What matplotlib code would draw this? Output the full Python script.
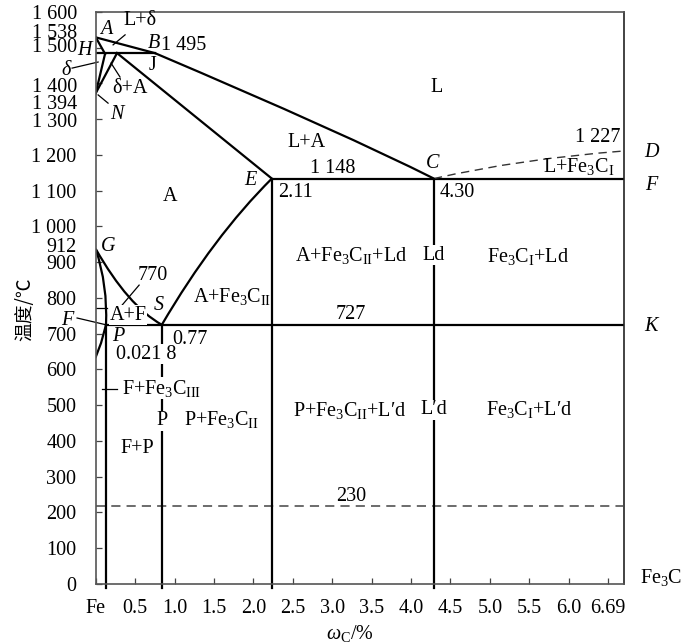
import matplotlib
matplotlib.use("Agg")
import matplotlib.pyplot as plt
from matplotlib.path import Path
from matplotlib.patches import PathPatch

# 铁碳相图 (示意图, 坐标按图读取)
plt.rcParams['font.family'] = ['Liberation Serif', 'DejaVu Sans']
plt.rcParams['mathtext.fontset'] = 'custom'
plt.rcParams['mathtext.rm'] = 'Liberation Serif'
plt.rcParams['mathtext.it'] = 'Liberation Serif:italic'
plt.rcParams['font.size'] = 14.5

# 刻度
x_ticks = [0, 0.5, 1.0, 1.5, 2.0, 2.5, 3.0, 3.5, 4.0, 4.5, 5.0, 5.5, 6.0, 6.5]
x_labels = ["Fe", "0.5", "1.0", "1.5", "2.0", "2.5", "3.0", "3.5", "4.0",
            "4.5", "5.0", "5.5", "6.0", "6.69"]
y_ticks = list(range(0, 1700, 100))
y_labels = ["0", "100", "200", "300", "400", "500", "600", "700", "800", "900",
            "1 000", "1 100", "1 200", "", "", "", ""]
# 上部纵轴标注 (位置错开)
y_extra = ["1 600", "1 538", "1 500", "1 400", "1 394", "1 300", "912"]
y_extra_pos = [1592, 1541, 1502, 1390, 1340, 1290, 940]

# 相界线 (直线)
ab_c, ab_t = [0, 0.75], [1529, 1485]                # AB
ah_c, ah_t = [0, 0.118], [1529, 1483]               # AH
hn_c, hn_t = [0.118, 0], [1483, 1373]               # HN
jn_c, jn_t = [0.27, 0], [1485, 1373]                # JN
hjb_c, hjb_t = [0, 0.75], [1485, 1485]              # HJB
je_c, je_t = [0.27, 2.234], [1485, 1134]            # JE
ecf_c, ecf_t = [2.234, 6.69], [1134, 1134]          # ECF
pq_c, pq_t = [0.13, 0.067, 0], [725, 674, 635]      # PQ
psk_c, psk_t = [0.13, 6.69], [725, 725]             # PSK
mag_c, mag_t = [0, 0.14], [772, 772]                # 770
line230_c, line230_t = [0, 6.69], [218, 218]
vert_c = [0.13, 0.838, 2.234, 4.29]
vert_top = [725, 725, 1134, 1134]

# 相界线 (曲线: 起点, 控制点, 终点)
bc_c, bc_t = [0.75, 3.176, 4.29], [1485, 1258, 1134]     # BC 液相线
es_c, es_t = [0.838, 1.494, 2.234], [725, 972, 1134]     # ES
gs_c, gs_t = [0, 0.41, 0.838], [937, 778, 725]           # GS
gp_c, gp_t = [0, 0.153, 0.13], [937, 834, 725]           # GP
cd_c, cd_t = [4.29, 5.385, 6.69], [1134, 1189, 1211]     # CD (虚线)

fig = plt.figure(figsize=(6.84, 6.44), dpi=100)
ax = fig.add_axes([0.14, 0.0932, 0.772, 0.8882])
ax.set_xlim(0, 6.70)
ax.set_ylim(0, 1600)

lw = 1.6
k = 'black'
for c, t in [(ab_c, ab_t), (ah_c, ah_t), (hn_c, hn_t), (jn_c, jn_t),
             (hjb_c, hjb_t), (je_c, je_t), (ecf_c, ecf_t), (pq_c, pq_t),
             (psk_c, psk_t)]:
    ax.plot(c, t, color=k, lw=lw, solid_joinstyle='round', zorder=2)


def curve(c, t, **kw):
    path = Path(list(zip(c, t)), [Path.MOVETO, Path.CURVE3, Path.CURVE3])
    ax.add_patch(PathPatch(path, facecolor='none', zorder=2, **kw))


for c, t in [(bc_c, bc_t), (es_c, es_t), (gs_c, gs_t), (gp_c, gp_t)]:
    curve(c, t, edgecolor=k, lw=lw)
curve(cd_c, cd_t, edgecolor='#333333', lw=1.0, ls=(0, (6, 4)))

ax.plot(mag_c, mag_t, color=k, lw=0.9, zorder=2)
ax.plot(line230_c, line230_t, color='#444444', lw=1.1, ls=(0, (6, 4)), zorder=2)
for c, t in zip(vert_c, vert_top):
    ax.plot([c, c], [t, -10], color=k, lw=lw, clip_on=False, zorder=2)

# 引线
leaders = [([0.22, 0.372], [1508, 1536]),
           ([-0.30, 0.03], [1443, 1460]),
           ([0.194, 0.308], [1457, 1418]),
           ([0.03, 0.156], [1368, 1345]),
           ([0.55, 0.334], [836, 780]),
           ([-0.237, 0.13], [744, 725]),
           ([0.076, 0.266], [545, 545])]
for c, t in leaders:
    ax.plot(c, t, color=k, lw=0.9, clip_on=False, zorder=2)

ax.set_xticks(x_ticks)
ax.set_xticklabels(x_labels)
ax.set_yticks(y_ticks)
ax.set_yticklabels(y_labels)
ax.tick_params(direction='in', length=4, width=0.9, color='#444444')
ax.tick_params(axis='x', pad=11)
ax.tick_params(axis='y', pad=14)
for s in ax.spines.values():
    s.set_color('#555555')
    s.set_linewidth(1.2)
ax.spines['right'].set_color('#222222')


def t(x, y, s, italic=False, box=False, **kw):
    kw.setdefault('ha', 'center')
    if box:
        kw['bbox'] = dict(facecolor='white', edgecolor='none', pad=0.4)
    ax.text(x, y, s, va='center', style='italic' if italic else 'normal',
            clip_on=False, zorder=3, **kw)


for s, y in zip(y_extra, y_extra_pos):
    t(-0.237, y, s, ha='right')
t(-0.148, 1491, "H", italic=True)
t(-0.376, 1435, "δ", italic=True)
t(-0.364, 738, "F", italic=True)

# 点
t(0.13, 1550, "A", italic=True)
t(0.74, 1513, "B", italic=True)
t(0.714, 1449, "J")
t(0.27, 1312, "N", italic=True)
t(4.27, 1175, "C", italic=True)
t(1.958, 1130, "E", italic=True)
t(0.156, 945, "G", italic=True)
t(0.803, 780, "S", italic=True)
t(0.283, 691, "P", italic=True)
t(7.05, 1208, "D", italic=True)
t(7.05, 1116, "F", italic=True)
t(7.05, 719, "K", italic=True)
t(7.17, 17, r"Fe$_3$C")

# 数值
t(1.12, 1505, "1 495")
t(3.01, 1161, "1 148")
t(2.54, 1096, "2.11")
t(4.585, 1096, "4.30")
t(6.375, 1248, "1 227")
t(0.727, 864, "770")
t(1.197, 683, "0.77")
t(0.638, 643, "0.021 8", box=True)
t(3.24, 755, "727")
t(3.24, 246, "230")

# 相区
t(0.563, 1575, "L+δ")
t(0.435, 1387, "δ+A")
t(4.33, 1390, "L")
t(2.67, 1236, "L+A")
t(6.13, 1169, r"L+Fe$_3$C$_{\rm I}$")
t(0.943, 1083, "A")
t(0.41, 752, "A+F", box=True)
t(1.73, 803, r"A+Fe$_3$C$_{\rm II}$")
t(3.24, 920, r"A+Fe$_3$C$_{\rm II}$+Ld")
t(4.293, 920, "Ld", box=True)
t(5.487, 917, r"Fe$_3$C$_{\rm I}$+Ld")
t(0.83, 548, r"F+Fe$_3$C$_{\rm III}$", box=True)
t(0.84, 456, "P", box=True)
t(1.59, 459, r"P+Fe$_3$C$_{\rm II}$")
t(0.524, 380, "F+P")
t(3.227, 484, r"P+Fe$_3$C$_{\rm II}$+L′d")
t(4.293, 487, "L′d", box=True)
t(5.50, 487, r"Fe$_3$C$_{\rm I}$+L′d")

fig.text(25 / 684, 1 - 309 / 644, "温度/℃", rotation=90, ha='center',
         va='center', family=['Noto Sans CJK SC', 'DejaVu Sans'], fontsize=13.5)
fig.text(350 / 684, 1 - 633 / 644, r"$\omega_{\rm C}$/%", ha='center',
         va='center')

fig.savefig("out.png", dpi=100)
